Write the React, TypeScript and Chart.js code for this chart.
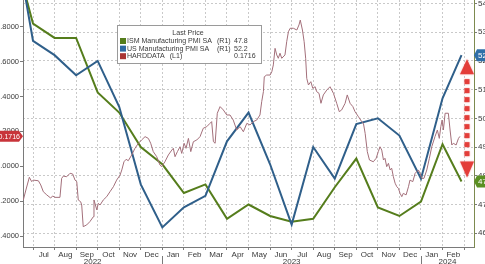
import React, { useEffect, useRef } from 'react';
import { Chart, registerables } from 'chart.js';

Chart.register(...registerables);

// ---------- data ----------
const monthLabels = ['Jul', 'Aug', 'Sep', 'Oct', 'Nov', 'Dec', 'Jan', 'Feb', 'Mar', 'Apr', 'May', 'Jun', 'Jul', 'Aug', 'Sep', 'Oct', 'Nov', 'Dec', 'Jan', 'Feb'];
const yearLabels = ['2022', '2023', '2024'];
const yearStartMonths = [-6, 6, 18]; // months since Jul 2022

const leftTicks = [-0.4, -0.2, 0, 0.2, 0.4, 0.6, 0.8];
const rightTicks = [46, 47, 48, 49, 50, 51, 52, 53, 54];
const monthBoundaries = [0, 1, 2, 3, 4, 5, 6, 7, 8, 9, 10, 11, 12, 13, 14, 15, 16, 17, 18, 19, 20];

const seriesNames = ['ISM Manufacturing PMI SA', 'US Manufacturing PMI SA', 'HARDDATA'];
const seriesAxisTags = ['(R1)', '(R1)', '(L1)'];

// monthly PMI prints, placed at the end of each month (months since Jul 2022)
const pmiMonths = [-1, 0, 1, 2, 3, 4, 5, 6, 7, 8, 9, 10, 11, 12, 13, 14, 15, 16, 17, 18, 19, 19.88];
const ismValues = [56.1, 53.3, 52.8, 52.8, 50.9, 50.2, 49.0, 48.4, 47.4, 47.7, 46.5, 47.0, 46.6, 46.4, 46.5, 47.6, 48.6, 46.9, 46.6, 47.1, 49.1, 47.8];
const usValues = [57.0, 52.7, 52.2, 51.5, 52.0, 50.4, 47.7, 46.2, 46.9, 47.3, 49.2, 50.2, 48.4, 46.3, 49.0, 47.9, 49.8, 50.0, 49.4, 47.9, 50.7, 52.2];

const hardMonths = [-0.45, -0.33, -0.17, -0.06, 0.01, 0.25, 0.36, 0.48, 0.64, 0.82,
  0.91, 1.02, 1.25, 1.33, 1.41, 1.56, 1.72, 1.84, 1.95, 2.03,
  2.10, 2.21, 2.26, 2.33, 2.49, 2.64, 2.80, 2.83, 2.96, 3.03,
  3.11, 3.26, 3.42, 3.57, 3.73, 3.88, 4.04, 4.12, 4.22, 4.32,
  4.42, 4.58, 4.73, 4.89, 5.04, 5.20, 5.35, 5.46, 5.58, 5.74,
  5.89, 5.97, 6.12, 6.28, 6.44, 6.51, 6.59, 6.70, 6.82, 6.90,
  7.01, 7.10, 7.21, 7.32, 7.44, 7.60, 7.75, 7.90, 8.06, 8.21,
  8.29, 8.37, 8.45, 8.55, 8.68, 8.83, 8.99, 9.14, 9.29, 9.45,
  9.61, 9.76, 9.92, 10.07, 10.22, 10.38, 10.53, 10.61, 10.69, 10.73,
  10.84, 11.00, 11.08, 11.15, 11.23, 11.31, 11.38, 11.46, 11.54, 11.69,
  11.77, 11.85, 11.93, 12.08, 12.24, 12.34, 12.40, 12.50, 12.58, 12.65,
  12.70, 12.78, 12.89, 12.98, 13.09, 13.16, 13.27, 13.36, 13.47, 13.63,
  13.78, 13.94, 14.09, 14.21, 14.32, 14.48, 14.58, 14.71, 14.84, 14.94,
  15.10, 15.25, 15.33, 15.41, 15.51, 15.61, 15.79, 15.92, 16.02, 16.10,
  16.18, 16.26, 16.33, 16.41, 16.49, 16.57, 16.64, 16.72, 16.80, 16.88,
  16.95, 17.03, 17.11, 17.18, 17.31, 17.42, 17.49, 17.62, 17.73, 17.88,
  17.96, 18.04, 18.14, 18.27, 18.39, 18.50, 18.65, 18.76, 18.85, 18.92,
  18.98, 19.04, 19.12, 19.27, 19.35, 19.43, 19.50, 19.63, 19.74, 19.81];

const hardValues = [-0.193, -0.136, -0.063, -0.088, -0.079, -0.083, -0.107, -0.146, -0.164, -0.182,
  -0.170, -0.178, -0.178, -0.069, -0.056, -0.060, -0.040, -0.044, -0.079, -0.088,
  -0.193, -0.203, -0.222, -0.346, -0.336, -0.317, -0.289, -0.193, -0.250, -0.212,
  -0.222, -0.193, -0.174, -0.146, -0.117, -0.079, -0.050, -0.021, 0.026, 0.040,
  0.032, 0.065, 0.103, 0.132, 0.151, 0.170, 0.160, 0.132, 0.084, 0.055,
  0.007, -0.002, 0.026, 0.065, 0.093, 0.103, 0.055, 0.084, 0.112, 0.074,
  0.132, 0.103, 0.160, 0.084, 0.141, 0.151, 0.170, 0.218, 0.227, 0.246,
  0.256, 0.141, 0.132, 0.304, 0.342, 0.323, 0.294, 0.294, 0.265, 0.208,
  0.227, 0.198, 0.246, 0.237, 0.256, 0.265, 0.294, 0.370, 0.428, 0.513,
  0.523, 0.523, 0.542, 0.581, 0.676, 0.638, 0.619, 0.648, 0.619, 0.638,
  0.714, 0.771, 0.791, 0.791, 0.781, 0.810, 0.838, 0.781, 0.714, 0.619,
  0.504, 0.466, 0.485, 0.447, 0.456, 0.428, 0.418, 0.361, 0.409, 0.437,
  0.456, 0.418, 0.361, 0.313, 0.323, 0.361, 0.409, 0.361, 0.342, 0.313,
  0.284, 0.256, 0.246, 0.189, 0.084, 0.036, 0.026, 0.046, 0.084, 0.112,
  0.093, 0.036, 0.046, -0.002, 0.017, -0.021, -0.011, -0.060, -0.097, -0.117,
  -0.126, -0.155, -0.174, -0.155, -0.164, -0.117, -0.079, -0.088, -0.040, -0.021,
  -0.040, -0.069, -0.069, -0.021, 0.046, 0.112, 0.170, 0.208, 0.160, 0.227,
  0.265, 0.208, 0.304, 0.304, 0.208, 0.122, 0.132, 0.122, 0.160, 0.1716];

// ---------- styles ----------
const FONT = '"Liberation Sans", Arial, sans-serif';
const GREEN = '#557d1c';
const BLUE = '#2f5f8a';
const HARD = '#a36f7a';
const GRID = '#c9c9c9';
const AXIS = '#7a7a7a';
const TXT = '#3a3a3a';

const last = (a: number[]) => a[a.length - 1];

const overlayPlugin = {
  id: 'overlay',
  afterDraw(chart: any) {
    const ctx = chart.ctx as CanvasRenderingContext2D;
    const xs = chart.scales.x;
    const yl = chart.scales.yL;
    const yr = chart.scales.yR;
    const area = chart.chartArea;
    ctx.save();

    // year labels and separators
    ctx.font = `8px ${FONT}`;
    ctx.fillStyle = TXT;
    ctx.textAlign = 'center';
    ctx.textBaseline = 'middle';
    yearLabels.forEach((lab, k) => {
      const s = yearStartMonths[k];
      const e = k + 1 < yearStartMonths.length ? yearStartMonths[k + 1] : s + 12;
      const a = Math.max(s, xs.min);
      const b = Math.min(e, xs.max);
      const cx = (xs.getPixelForValue(a) + xs.getPixelForValue(b)) / 2;
      ctx.fillText(lab, cx, area.bottom + 14.5);
      if (s > xs.min && s < xs.max) {
        const px = Math.round(xs.getPixelForValue(s)) + 0.5;
        ctx.strokeStyle = AXIS;
        ctx.lineWidth = 1;
        ctx.beginPath();
        ctx.moveTo(px, area.bottom + 9);
        ctx.lineTo(px, area.bottom + 20);
        ctx.stroke();
      }
    });

    // legend box
    const lx = 117, ly = 25, lw = 144, lh = 38;
    ctx.fillStyle = '#ffffff';
    ctx.fillRect(lx, ly, lw, lh);
    ctx.strokeStyle = '#9a9a9a';
    ctx.lineWidth = 1;
    ctx.strokeRect(lx + 0.5, ly + 0.5, lw, lh);
    ctx.font = `8px ${FONT}`;
    const fitSize = Math.min(8, (8 * 85) / ctx.measureText(seriesNames[0]).width);
    ctx.font = `${fitSize.toFixed(2)}px ${FONT}`;
    ctx.fillStyle = TXT;
    ctx.textAlign = 'center';
    ctx.fillText('Last Price', lx + 71, ly + 8.5);
    const colors = [GREEN, '#2f6aa3', '#a83434'];
    const vals = [last(ismValues).toFixed(1), last(usValues).toFixed(1), last(hardValues).toFixed(4)];
    const nameX = lx + 10;
    seriesNames.forEach((n, k) => {
      const ry = ly + 16 + k * 7.6;
      ctx.fillStyle = colors[k];
      ctx.fillRect(lx + 3, ry - 3, 6, 6);
      ctx.fillStyle = TXT;
      ctx.textAlign = 'left';
      ctx.fillText(n, nameX, ry);
      const tagX = seriesAxisTags[k] === '(R1)' ? lx + 100 : nameX + ctx.measureText(n).width + 5;
      ctx.fillText(seriesAxisTags[k], tagX, ry);
      ctx.fillText(vals[k], lx + 117, ry);
    });

    // last value tags on axes
    const tag = (y: number, color: string, text: string, side: 'l' | 'r') => {
      ctx.fillStyle = color;
      ctx.beginPath();
      if (side === 'l') {
        const x0 = area.left;
        ctx.moveTo(0, y - 5.5);
        ctx.lineTo(x0 - 4, y - 5.5);
        ctx.lineTo(x0, y);
        ctx.lineTo(x0 - 4, y + 5.5);
        ctx.lineTo(0, y + 5.5);
      } else {
        const x0 = area.right;
        ctx.moveTo(x0, y);
        ctx.lineTo(x0 + 3, y - 6);
        ctx.lineTo(chart.width, y - 6);
        ctx.lineTo(chart.width, y + 6);
        ctx.lineTo(x0 + 3, y + 6);
      }
      ctx.closePath();
      ctx.fill();
      ctx.fillStyle = '#ffffff';
      ctx.textBaseline = 'middle';
      if (side === 'l') {
        ctx.font = `7px ${FONT}`;
        ctx.textAlign = 'right';
        ctx.fillText(text, area.left - 3, y + 0.5);
      } else {
        ctx.font = `8px ${FONT}`;
        ctx.textAlign = 'left';
        ctx.fillText(text, area.right + 4, y + 0.5);
      }
    };
    tag(yl.getPixelForValue(last(hardValues)), '#c8343a', last(hardValues).toFixed(4), 'l');
    tag(yr.getPixelForValue(last(usValues)), '#2f6fa8', last(usValues).toFixed(1), 'r');
    tag(yr.getPixelForValue(last(ismValues)), '#5b8f22', last(ismValues).toFixed(1), 'r');

    // red dashed double-headed arrow between the two latest PMI prints
    const ax = area.right - 7;
    const yTop = yr.getPixelForValue(last(usValues)) + 4;
    const yBot = yr.getPixelForValue(last(ismValues)) - 4;
    ctx.fillStyle = 'rgba(226,52,48,0.92)';
    ctx.shadowColor = 'rgba(240,90,90,0.6)';
    ctx.shadowBlur = 2;
    ctx.beginPath();
    ctx.moveTo(ax, yTop);
    ctx.lineTo(ax + 7, yTop + 15);
    ctx.lineTo(ax - 7, yTop + 15);
    ctx.closePath();
    ctx.fill();
    ctx.beginPath();
    ctx.moveTo(ax, yBot);
    ctx.lineTo(ax + 7, yBot - 16);
    ctx.lineTo(ax - 7, yBot - 16);
    ctx.closePath();
    ctx.fill();
    for (let y = yTop + 20; y < yBot - 20; y += 9) {
      ctx.fillRect(ax - 2.5, y, 5, 5);
    }
    ctx.restore();
  },
};

export default function App() {
  const ref = useRef<HTMLCanvasElement>(null);
  useEffect(() => {
    document.body.style.margin = '0';
    const font = { size: 8, family: FONT };
    const chart = new Chart(ref.current as HTMLCanvasElement, {
      type: 'line',
      data: {
        datasets: [
          {
            label: seriesNames[2],
            data: hardMonths.map((x, k) => ({ x, y: hardValues[k] })),
            yAxisID: 'yL',
            borderColor: HARD,
            borderWidth: 1,
            pointRadius: 0,
            tension: 0,
            order: 0,
          },
          {
            label: seriesNames[1],
            data: pmiMonths.map((x, k) => ({ x, y: usValues[k] })),
            yAxisID: 'yR',
            borderColor: BLUE,
            borderWidth: 2,
            pointRadius: 0,
            tension: 0,
            order: 1,
          },
          {
            label: seriesNames[0],
            data: pmiMonths.map((x, k) => ({ x, y: ismValues[k] })),
            yAxisID: 'yR',
            borderColor: GREEN,
            borderWidth: 2,
            pointRadius: 0,
            tension: 0,
            order: 2,
          },
        ],
      },
      options: {
        responsive: false,
        animation: false,
        events: [],
        layout: { padding: 0 },
        plugins: { legend: { display: false }, tooltip: { enabled: false } },
        scales: {
          x: {
            type: 'linear',
            position: 'bottom',
            min: -0.464,
            max: 20.46,
            afterBuildTicks: (s: any) => {
              const t = [
                ...monthBoundaries.map((v) => ({ value: v })),
                ...monthLabels.map((_, k) => ({ value: k + 0.5 })),
              ];
              t.sort((a, b) => a.value - b.value);
              s.ticks = t;
            },
            afterFit: (s: any) => {
              s.height = 17;
              s.paddingLeft = 0;
              s.paddingRight = 0;
            },
            grid: {
              color: (c: any) => (c.tick && Number.isInteger(c.tick.value) ? GRID : 'rgba(0,0,0,0)'),
              tickColor: (c: any) => (c.tick && Number.isInteger(c.tick.value) ? AXIS : 'rgba(0,0,0,0)'),
              tickLength: 3,
              lineWidth: 1,
            },
            border: { color: AXIS, width: 1, dash: [2, 2] },
            ticks: {
              autoSkip: false,
              maxRotation: 0,
              minRotation: 0,
              padding: 0,
              font,
              color: TXT,
              callback: (v: any) => (Number.isInteger(v) ? '' : monthLabels[Math.floor(v)]),
            },
          },
          yL: {
            type: 'linear',
            position: 'left',
            min: -0.4625,
            max: 0.953,
            afterBuildTicks: (s: any) => {
              s.ticks = leftTicks.map((v) => ({ value: v }));
            },
            afterFit: (s: any) => {
              s.width = 23;
              s.paddingTop = 0;
              s.paddingBottom = 0;
            },
            grid: { drawOnChartArea: false, tickLength: 3, tickColor: AXIS },
            border: { color: AXIS, width: 1 },
            ticks: { padding: 1, font: { size: 7.5, family: FONT }, color: TXT, callback: (v: any) => Number(v).toFixed(4) },
          },
          yR: {
            type: 'linear',
            position: 'right',
            min: 45.52,
            max: 54.12,
            afterBuildTicks: (s: any) => {
              s.ticks = rightTicks.map((v) => ({ value: v }));
            },
            afterFit: (s: any) => {
              s.width = 11;
              s.paddingTop = 0;
              s.paddingBottom = 0;
            },
            grid: { drawOnChartArea: true, color: GRID, tickLength: 3, tickColor: AXIS, lineWidth: 1 },
            border: { color: '#7d8a4f', width: 1, dash: [2, 2] },
            ticks: { padding: 1, font, color: TXT, callback: (v: any) => String(v) },
          },
        },
      },
      plugins: [overlayPlugin],
    } as any);
    return () => chart.destroy();
  }, []);
  return (
    <div style={{ position: 'absolute', left: 0, top: 0, width: 485, height: 264, background: '#ffffff' }}>
      <canvas ref={ref} width={485} height={264} style={{ display: 'block', width: 485, height: 264 }} />
    </div>
  );
}
